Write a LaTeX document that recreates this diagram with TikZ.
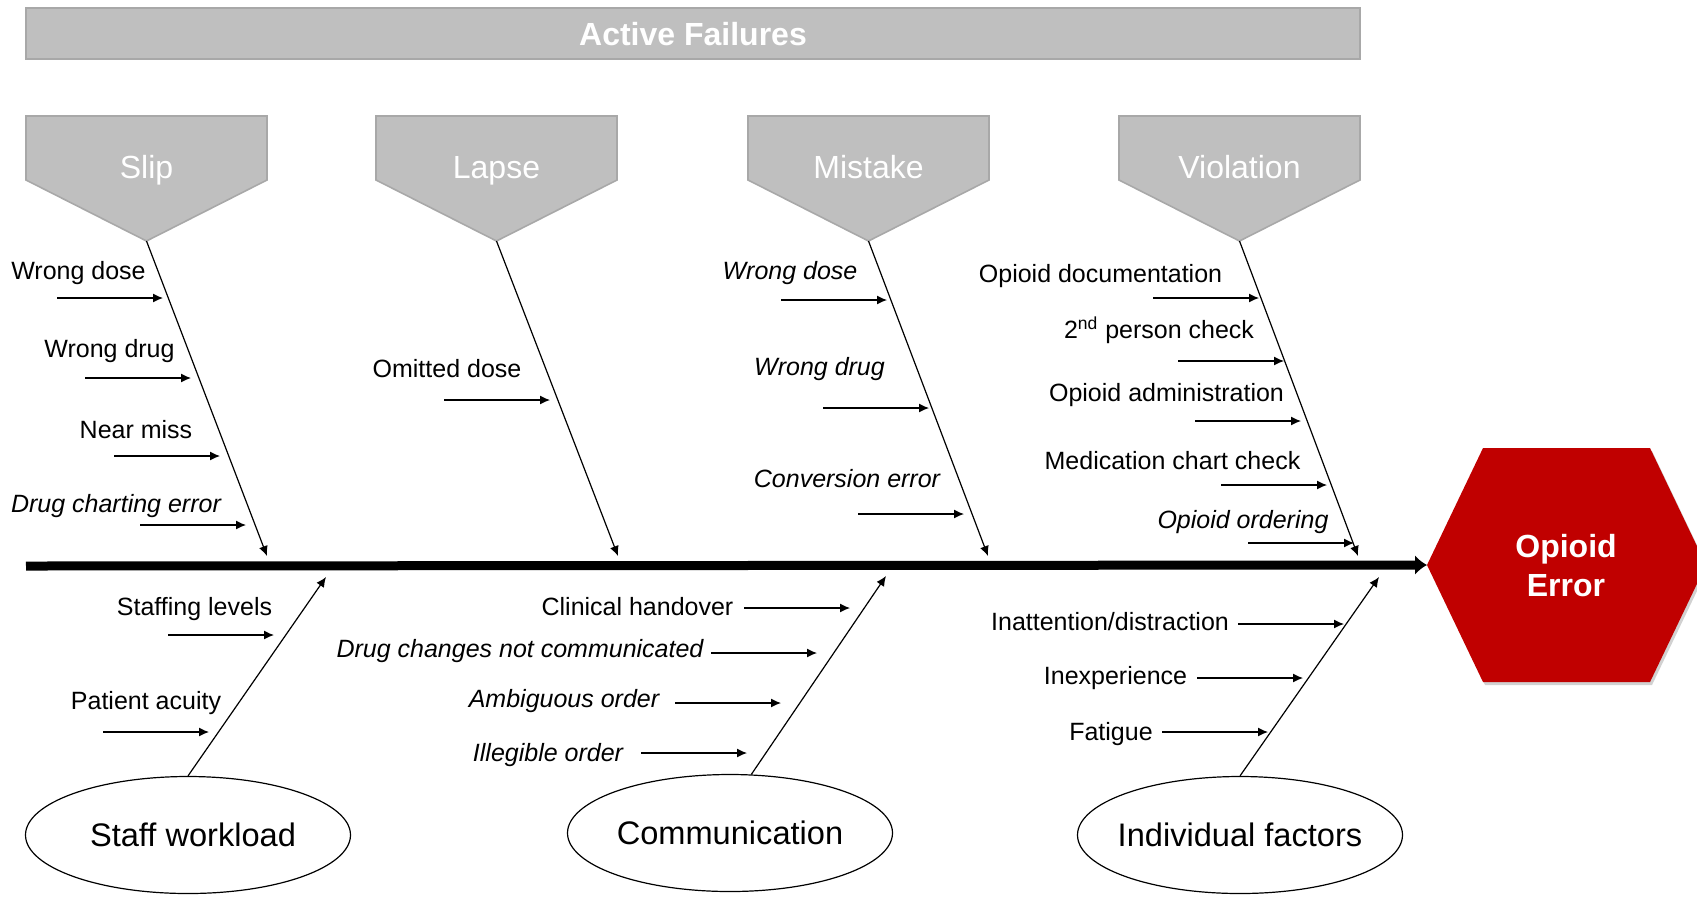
\documentclass[tikz,border=0pt]{standalone}
\usepackage{fontspec}
\setmainfont{Liberation Sans}
\usetikzlibrary{arrows.meta,shapes.geometric,positioning}
\definecolor{boxgray}{RGB}{191,191,191}
\definecolor{edgegray}{RGB}{168,168,168}
\definecolor{errred}{RGB}{192,0,0}
\tikzset{
  cause/.style={inner sep=0pt, font=\fontsize{12.5}{15}\selectfont},
  sub/.style={-{Latex[length=5pt,width=4.5pt]}, line width=0.6pt},
  bone/.style={-{Latex[length=5pt,width=4.5pt]}, line width=0.6pt},
  group/.style={draw, ellipse, line width=0.6pt, minimum width=162.5pt, minimum height=58.5pt, inner sep=0pt, font=\fontsize{16.3}{19}\selectfont},
  kind/.style={fill=boxgray, draw=edgegray, line width=0.8pt},
}
\begin{document}
\begin{tikzpicture}[x=0.5pt,y=-0.5pt]
    \useasboundingbox (0,0) rectangle (1697,896);
    % banner
    \draw[kind] (26,8) rectangle (1360,59);
    \node[text=white, font=\bfseries\fontsize{16}{19}\selectfont] (active) at (693,34) {Active Failures};
    % failure types
    \foreach \n/\lbl/\x in {slip/Slip/26, lapse/Lapse/376, mistake/Mistake/748, violation/Violation/1119}{
        \draw[kind] (\x,116) -- ++(241,0) -- ++(0,64) -- ++(-120.5,61) coordinate (\n-tip) -- ++(-120.5,-61) -- cycle;
        \node[text=white, anchor=base, font=\fontsize{16}{18}\selectfont] (\n) at (\x+120.5,178) {\lbl};
    }
    % effect
    \fill[black!18] (1429,568) -- (1485,451) -- (1652,451) -- (1708,568) -- (1652,685) -- (1485,685) -- cycle;
    \fill[errred] (1427,565) coordinate (err-tip) -- (1483,448) -- (1650,448) -- (1706,565) -- (1650,682) -- (1483,682) -- cycle;
    \node[text=white, font=\bfseries\fontsize{16}{19.5}\selectfont, align=center] (err) at (1566,566) {Opioid\\Error};
    % spine
    \coordinate (spine-s) at (26,566);
    \draw[line width=4.5pt, -{Latex[length=6pt,width=10pt]}] (spine-s) -- (err-tip);
    % upper bones
    \foreach \n/\x in {slip/267, lapse/618, mistake/988, violation/1358}{
        \coordinate (\n-end) at (\x,556);
        \draw[bone] (\n-tip) -- (\n-end);
    }
    % lower groups
    \node[group] (staff) at (188,835) {\makebox[0pt]{\hspace{5pt}Staff workload}};
    \node[group] (comm) at (730,833) {\makebox[0pt]{Communication}};
    \node[group] (indiv) at (1240,835) {\makebox[0pt]{Individual factors}};
    \coordinate (staff-end) at (326,577);
    \coordinate (comm-end) at (886,576);
    \coordinate (indiv-end) at (1379,577);
    \draw[bone] (staff.north) -- (staff-end);
    \draw[bone] (comm.70) -- (comm-end);
    \draw[bone] (indiv.north) -- (indiv-end);
    % causes
    \foreach \n/\lbl/\lx/\ly/\ax/\ay in {
        s1/Wrong dose/78.5/273/57/298,
        s2/Wrong drug/109.5/351/85/378,
        s3/Near miss/136/430/114/456,
        s4/{\itshape Drug charting error}/116/506/140/525,
        l1/Omitted dose/447/369/444/400,
        m1/{\itshape Wrong dose}/790/273/781/300,
        m2/{\itshape Wrong drug}/819.5/369/823/408,
        m3/{\itshape Conversion error}/847/479/858/514,
        v1/Opioid documentation/1100.5/276/1153/298,
        v2/2\textsuperscript{nd} person check/1159/330/1178/361,
        v3/Opioid administration/1166.5/395/1195/421,
        v4/Medication chart check/1172.5/461/1221/485,
        v5/{\itshape Opioid ordering}/1243/522/1248/543,
        w1/Staffing levels/194.5/609/168/635,
        w2/Patient acuity/146/703/103/732,
        c1/Clinical handover/637.5/607/744/608,
        c2/{\itshape Drug changes not communicated}/520/651/711/653,
        c3/{\itshape Ambiguous order}/564/701/675/703,
        c4/{\itshape Illegible order}/548/755/641/753,
        i1/{Inattention/distraction}/1110/622/1238/624,
        i2/Inexperience/1115.5/678/1197/678,
        i3/Fatigue/1111/734/1162/732}{
        \node[cause] (\n) at (\lx,\ly) {\lbl};
        \coordinate (\n-a) at (\ax,\ay);
        \coordinate (\n-b) at (\ax+106,\ay);
        \draw[sub] (\n-a) -- (\n-b);
    }
\end{tikzpicture}
\end{document}
